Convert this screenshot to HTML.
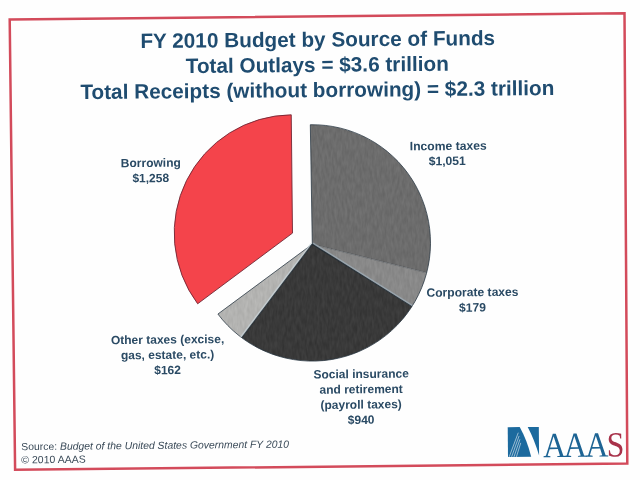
<!DOCTYPE html>
<html lang="en">
<head>
<meta charset="utf-8">
<title>FY 2010 Budget by Source of Funds</title>
<style>
html,body{margin:0;padding:0;background:#fefefe;}
body{width:640px;height:480px;overflow:hidden;}
svg{display:block;filter:blur(0.3px);font-family:"Liberation Sans",sans-serif;}
.serif{font-family:"Liberation Serif",serif;}
</style>
</head>
<body>
<svg width="640" height="480" viewBox="0 0 640 480">
<rect width="640" height="480" fill="#fefefe"/>

<polygon points="9.7,19.4 624.5,13.3 627.3,463.6 15.1,469.8" fill="none" stroke="#d34b5b" stroke-width="2.5" stroke-linejoin="miter"/>
<text x="140.4" y="48.1" font-size="20.75" font-weight="bold" font-style="normal" text-anchor="start" fill="#1f4c70" transform="rotate(-0.5 140.4 48.1)">FY 2010 Budget by Source of Funds</text>
<text x="185.75" y="73.0" font-size="20.75" font-weight="bold" font-style="normal" text-anchor="start" fill="#1f4c70" transform="rotate(-0.5 185.75 73.0)">Total Outlays = $3.6 trillion</text>
<text x="80.4" y="99.1" font-size="20.75" font-weight="bold" font-style="normal" text-anchor="start" fill="#1f4c70" transform="rotate(-0.5 80.4 99.1)">Total Receipts (without borrowing) = $2.3 trillion</text>
<defs>
<filter id="tex" x="0" y="0" width="100%" height="100%" color-interpolation-filters="sRGB">
<feTurbulence type="fractalNoise" baseFrequency="0.4 0.12" numOctaves="2" seed="7" result="n"/>
<feColorMatrix in="n" type="matrix" values="1.6 0 0 0 -0.3  1.6 0 0 0 -0.3  1.6 0 0 0 -0.3  0 0 0 0 0.055" result="g"/>
<feComposite in="g" in2="SourceGraphic" operator="atop"/>
</filter>
</defs>
<g filter="url(#tex)">
<path d="M312.30 244.20L310.32 124.72A118.20 118.20 0 0 1 426.68 272.72Z" fill="#6b6b6b"/>
<path d="M312.30 244.20L426.68 272.72A118.20 118.20 0 0 1 411.84 306.64Z" fill="#898989"/>
<path d="M312.30 244.20L411.84 306.64A118.20 118.20 0 0 1 241.79 337.77Z" fill="#353535"/>
<path d="M312.30 244.20L241.79 337.77A118.20 118.20 0 0 1 217.91 314.05Z" fill="#b6b6b4"/>
</g>
<path d="M312.3 244.2L310.32 124.72A118.2 118.2 0 1 1 217.91 314.05Z" fill="none" stroke="#25333f" stroke-opacity="0.85" stroke-width="0.9" stroke-linejoin="round"/>
<line x1="312.3" y1="244.2" x2="426.68" y2="272.72" stroke="#16222c" stroke-opacity="0.3" stroke-width="1.1"/>
<line x1="312.94" y1="243.18" x2="412.48" y2="305.62" stroke="#a3b4c0" stroke-opacity="0.65" stroke-width="1.7"/>
<line x1="312.3" y1="244.2" x2="411.84" y2="306.64" stroke="#16222c" stroke-opacity="0.85" stroke-width="1.1"/>
<line x1="311.34" y1="243.48" x2="240.83" y2="337.05" stroke="#cdd8df" stroke-opacity="0.65" stroke-width="1.7"/>
<line x1="312.3" y1="244.2" x2="241.79" y2="337.77" stroke="#16222c" stroke-opacity="0.85" stroke-width="1.1"/>
<path d="M292.50 233.10L197.65 303.80A118.30 118.30 0 0 1 291.26 114.81Z" fill="#f4444b" stroke="#6a2230" stroke-opacity="0.9" stroke-width="0.95" stroke-linejoin="round"/>
<text x="150.8" y="166.9" font-size="12" font-weight="bold" font-style="normal" text-anchor="middle" fill="#2a4a64" transform="rotate(-0.55 150.8 166.9)">Borrowing</text>
<text x="150.8" y="182.2" font-size="12" font-weight="bold" font-style="normal" text-anchor="middle" fill="#2a4a64" transform="rotate(-0.55 150.8 182.2)">$1,258</text>
<text x="448.3" y="150" font-size="12.15" font-weight="bold" font-style="normal" text-anchor="middle" fill="#2a4a64" transform="rotate(-0.55 448.3 150)">Income taxes</text>
<text x="447.3" y="165.1" font-size="12.15" font-weight="bold" font-style="normal" text-anchor="middle" fill="#2a4a64" transform="rotate(-0.55 447.3 165.1)">$1,051</text>
<text x="472.5" y="296.3" font-size="12.1" font-weight="bold" font-style="normal" text-anchor="middle" fill="#2a4a64" transform="rotate(-0.55 472.5 296.3)">Corporate taxes</text>
<text x="472.5" y="311.6" font-size="12.1" font-weight="bold" font-style="normal" text-anchor="middle" fill="#2a4a64" transform="rotate(-0.55 472.5 311.6)">$179</text>
<text x="167.6" y="343.6" font-size="12" font-weight="bold" font-style="normal" text-anchor="middle" fill="#2a4a64" transform="rotate(-0.55 167.6 343.6)">Other taxes (excise,</text>
<text x="167.6" y="358.9" font-size="12" font-weight="bold" font-style="normal" text-anchor="middle" fill="#2a4a64" transform="rotate(-0.55 167.6 358.9)">gas, estate, etc.)</text>
<text x="167.6" y="374.2" font-size="12" font-weight="bold" font-style="normal" text-anchor="middle" fill="#2a4a64" transform="rotate(-0.55 167.6 374.2)">$162</text>
<text x="361.2" y="378.0" font-size="12" font-weight="bold" font-style="normal" text-anchor="middle" fill="#2a4a64" transform="rotate(-0.55 361.2 378.0)">Social insurance</text>
<text x="361.2" y="393.3" font-size="12" font-weight="bold" font-style="normal" text-anchor="middle" fill="#2a4a64" transform="rotate(-0.55 361.2 393.3)">and retirement</text>
<text x="361.2" y="408.6" font-size="12" font-weight="bold" font-style="normal" text-anchor="middle" fill="#2a4a64" transform="rotate(-0.55 361.2 408.6)">(payroll taxes)</text>
<text x="361.2" y="423.9" font-size="12" font-weight="bold" font-style="normal" text-anchor="middle" fill="#2a4a64" transform="rotate(-0.55 361.2 423.9)">$940</text>
<text x="21.3" y="450.2" font-size="10.4" fill="#3a4a58" transform="rotate(-0.55 21.3 450.2)">Source: <tspan font-style="italic">Budget of the United States Government FY 2010</tspan></text>
<text x="21.3" y="463.4" font-size="10.5" font-weight="normal" font-style="normal" text-anchor="start" fill="#3a4a58" transform="rotate(-0.55 21.3 463.4)">© 2010 AAAS</text>
<g transform="rotate(-0.55 508 457)">
<path d="M508 427.2H520Q527 440 531.2 456.9H508Z" fill="#1c6a9e"/>
<path d="M528 427.2H539.1V455.8Q534.6 440 528 427.2Z" fill="#1c6a9e"/>
<g stroke="#fff" stroke-width="0.6" stroke-opacity="0.9" fill="none">
<path d="M509.2 456.9L518.5 432.8"/><path d="M511.6 456.9L519.3 436"/><path d="M514 456.9L520.1 439.5"/><path d="M516.4 456.9L520.9 443"/>
</g>
<text class="serif" font-size="35.4" fill="#1d6494" text-anchor="middle" transform="translate(0 457.5) scale(0.9 1)" x="616.44 639.44 663.22 683.89" y="0">AAA<tspan fill="#a8324a">S</tspan></text>
</g>
</svg>
</body>
</html>
